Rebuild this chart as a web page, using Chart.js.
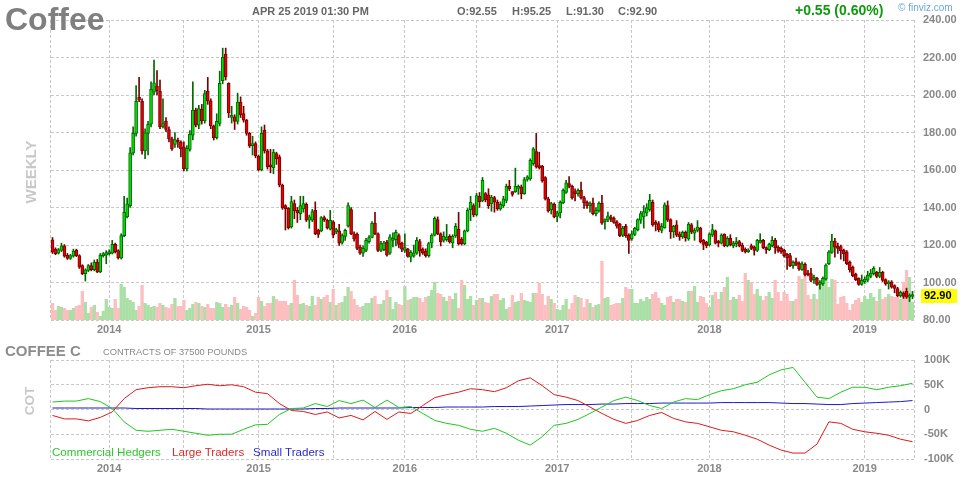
<!DOCTYPE html>
<html>
<head>
<meta charset="utf-8">
<title>Coffee weekly</title>
<script src="https://cdn.jsdelivr.net/npm/chart.js@4.4.1/dist/chart.umd.min.js"></script>
<style>
  body { margin: 0; background: #fff; font-family: "Liberation Sans", Arial, sans-serif; }
  #wrap { position: relative; width: 964px; height: 480px; overflow: hidden; }
  canvas { position: absolute; left: 0; }
  .txt { position: absolute; white-space: nowrap; line-height: 1; }
  .hdr { font-size: 11px; font-weight: bold; color: #666; top: 6px; }
  .side { font-weight: bold; color: #c8c8c8; transform: translate(-50%, -50%) rotate(-90deg); }
  .leg { font-size: 11.6px; top: 446px; }
</style>
</head>
<body>
<div id="wrap">
  <canvas id="price-chart" width="964" height="340" style="top:0"></canvas>
  <canvas id="cot-chart" width="964" height="140" style="top:340px"></canvas>

  <div class="txt" style="left:5px;top:3px;font-size:32px;font-weight:bold;color:#7f7f7f">Coffee</div>
  <div class="txt hdr" style="left:252px">APR 25 2019 01:30 PM</div>
  <div class="txt hdr" id="hdr-o" style="left:457px"></div>
  <div class="txt hdr" id="hdr-h" style="left:512px"></div>
  <div class="txt hdr" id="hdr-l" style="left:566px"></div>
  <div class="txt hdr" id="hdr-c" style="left:618px"></div>
  <div class="txt" style="left:795px;top:2.5px;font-size:14px;font-weight:bold;color:#109910">+0.55 (0.60%)</div>
  <div class="txt" style="left:898px;top:3px;font-size:10px;color:#6aa6e0">© finviz.com</div>
  <div class="txt side" style="left:30px;top:172px;font-size:15px">WEEKLY</div>

  <div class="txt" style="left:5px;top:343px;font-size:15px;font-weight:bold;color:#8c8c8c">COFFEE C</div>
  <div class="txt" style="left:103px;top:348px;font-size:9.3px;color:#888">CONTRACTS OF 37500 POUNDS</div>
  <div class="txt side" style="left:30px;top:401px;font-size:13.5px">COT</div>
  <div class="txt leg" style="left:52px;color:#2ec82e">Commercial Hedgers</div>
  <div class="txt leg" style="left:172px;color:#dd2a2a">Large Traders</div>
  <div class="txt leg" style="left:253px;color:#2a2ad0">Small Traders</div>
</div>

<script>
// weekly candles, Aug 2013 - Apr 2019
const opens = [
  122.8,117.8,115.7,117.1,119.6,114.5,112.9,114,117.1,114.3,
  109,104.7,106.5,109,106.8,110.7,105.7,114.3,114.6,115.4,
  115.7,120.3,117,113,125,135,141,169,179.5,198.7,
  196.6,170.2,179.5,184.4,201.5,204.7,202,183.3,186,181.6,
  176.6,173.7,175.5,174.8,172.3,160.6,171,178.6,191.9,183.9,
  192.3,186.2,201.9,196.9,183.4,177.3,184.8,207.6,221.8,206.2,
  188,188.4,185.9,196.2,190.1,186.6,179.5,173,174.1,167.3,
  160,181.2,170.2,162.4,161.3,168.8,167,152,141,139.6,
  129.6,142.1,138.5,136.7,139.2,141.7,133.2,133.2,138.5,127.8,
  127.5,134.6,133.2,128.5,132.4,127,127.5,121.4,124.6,130,
  138.9,126,125.7,118.9,115.7,117.1,121.8,124.1,131.7,126,
  117.1,117.5,121.4,115.7,122.5,122.8,125,121,117.1,117.8,
  113.5,114,115.7,121.8,117.8,116.8,114.3,121,125.3,133.5,
  126,122.5,122.8,124.6,121.1,124.8,128.5,123.2,120.7,127.5,
  138.9,141,136,146,143.5,147.4,146.7,142,145.3,142.8,
  139.2,141,143.8,151.3,148.5,148.5,150.2,151,147.4,155,
  155.2,163.4,169.8,162.4,162,156,144.6,138.9,141.7,135.2,
  137.1,142.4,148.1,152.8,151.3,148.5,147.4,149.2,145.3,142.8,
  141,142.4,136.7,138.2,142.4,132.4,133.2,134.9,134.2,132.4,
  131,125.3,130,125.3,123.2,125.7,128.2,133.2,135,137.1,
  138.9,142.8,132.1,131.4,127.8,129.3,141,133.5,127,130.7,
  126,124.3,126.8,123.2,130.7,126.3,127.8,128.9,122.5,121.4,
  120,125.3,127.5,122.1,121,125.7,119.6,123.5,119.6,120.7,
  121.8,120,117.8,116.4,119.6,118.9,117.1,121.4,122.5,118.6,
  117.5,119.6,122.5,118.9,118.2,117.1,115,114.3,109,111.1,
  110.4,106.8,109.7,105,104.7,101.5,102.2,99,99.3,101.8,
  110,116.1,122.1,119.2,119.2,117.1,116.4,110.7,108.2,104.3,
  102.2,99,100.4,101.2,103.2,104.7,105.4,103.2,105.4,101.5,
  99.3,100.4,98.3,96.8,92.9,94.3,95.4,92.2,92.55
];
const highs = [
  124,118.5,118.2,121,120.2,115.5,115,117.8,117.8,114.8,
  109.5,107.3,109.6,110.5,112,112.3,115.5,116,117,117.5,
  122.5,121,117.5,126,146,145,172,183,205,209.4,
  198,182,186,207,218.6,213,208,198,188,183,
  177.5,180,177,175.5,175,173,181,207,193,194.5,
  195,202.5,209.4,198,184,190,212.7,225,225,206.5,
  194,189.5,201,199,194,187,180,178,175,168,
  183,184,171,171,171,169.5,168,152.5,141.5,140,
  146,144,140,146,146,142.5,136,139,143,128.5,
  135.2,135.5,133.8,138.5,133,129,131,126,128.5,142.5,
  140,127,126.5,120,119.5,123.5,125,132.5,137.4,126.5,
  122,122,122.5,125.5,126.5,128,126,121.5,126,118.2,
  117,120,124,123,118.5,118,121.5,126,135,135,
  126.5,127,131,125.5,125.5,131.5,137.4,124,128,139.5,
  146,142,147.5,148,156,148,150,146.5,146,144,
  143,146,152.5,154.5,148.5,161,152,152,156,157,
  166,172,179.5,169.5,162.5,156.5,145.5,142.8,142.5,138,
  143.5,150,154.5,156.5,152,150,150,153.5,146,143.5,
  143,145,140,143,146.5,134,137.5,136,135,133,
  131.5,130,131,126,127.5,129.5,134,138,141,142,
  147,144,133,132.5,131.5,142.5,143.5,134,130.5,133,
  127,127.5,127.5,132,131.5,129,133,129.5,123,122,
  126.5,131,128,122.5,126,126,124.5,125.5,122,124,
  122.5,121,118.5,118,120.5,119.5,123,126,123,119,
  121,124.5,123.5,119.5,119,117.8,115.5,115.5,111.5,113,
  111,111,110.5,106.5,107.5,104,102.8,101,103,110,
  117,125.7,123.5,121,120,117.8,117,111.5,108.8,105,
  102.5,104,103,106,107,108.5,106,108,106,102,
  101,101,98.8,97.5,95.5,95,97,94,95.25
];
const lows = [
  115.5,114.8,115.2,116.5,113.5,112.3,112.3,113.5,113.8,107.5,
  104.2,100.8,105.8,106.2,106.2,105.2,105.2,113.5,110,114.6,
  115.2,115.7,112.5,112.5,124.5,134.5,140,168,178,196.5,
  168.5,166,168,183,200,200,182,182.5,180.5,175,
  170.5,172,172,167,159.5,159.5,170,176,183,182,
  184.5,185,195,182,176,176.5,183.5,206,208,188,
  185,181.6,184.5,188,185.5,178.5,172,168,166.5,159.5,
  159.5,169,160.5,158.5,158,163,151,139,128,128.5,
  129,134,132,133.5,137.5,132.5,128.9,132.5,125.5,124,
  127,132.5,128.5,128,123.8,126,119.8,120.5,122.5,129.5,
  125.5,122,117.5,115,113.9,116.4,121,123.8,125.5,116.5,
  116.4,117,114,115,119,119.5,118.5,116.5,116,113.5,
  111,113.5,115,114,115,113.5,113.5,118.5,124.8,125.5,
  119.5,121.5,122,121,118.5,124,120,120,120,127,
  133,135,135.5,140,143,143,139.5,138,137.5,138.5,
  138.5,140,142.5,149,146,148,147,144.6,147,154,
  154.5,162.5,161,160.5,153.5,144,137.5,136.5,134.5,132.5,
  134.5,142,147.5,150.5,144.5,143.5,146,144.5,139.5,139.5,
  137.5,136,135.5,137.5,131,128.5,132.5,132.5,131.5,129,
  124.5,124.5,124,115.5,122.5,125,127.5,131.5,129,135.5,
  138,130,127.5,127,126.5,128.9,132.5,123.5,124,124.5,
  122.5,123.5,122,122.5,126,122.5,127,121,117.5,118.5,
  119.5,124.5,120.5,119,120.5,119,119,119.5,118.5,119,
  119,116.4,115.7,116,117.5,114.6,116.5,121,118,115.5,
  117,119,115.5,116,115.5,113.5,107,108.5,107.5,109,
  106.5,106.5,103.5,103.5,100.5,99.5,98.5,96.5,98.5,101.2,
  109.5,115.5,113.5,115.5,112.5,111.5,109.5,105.5,103,101,
  98.5,98.5,99.5,100.5,102.5,104,102.5,102.5,100.5,98.5,
  96.5,97,94.5,92.4,92.2,91.5,91.5,89.8,91.3
];
const closes = [
  116.2,115.4,117.5,119.6,114,112.9,114.3,116.8,114.3,108.2,
  104.7,106.8,109,106.8,110.7,105.7,114.6,115.4,116,116.2,
  120.3,116.4,113.2,125,137.4,142,169.1,179.5,196.6,197.3,
  170.2,179.8,184.4,203,206.5,202.3,183,184.8,181.6,176.6,
  171.3,176.2,174.8,171.3,160.6,171.6,179.1,191.9,183.9,192.8,
  186.2,200.8,196.9,183.7,177.3,185.9,206.2,220.1,209.7,190.5,
  189.1,185.9,196.2,189.4,186.6,179.5,173,174.1,167.7,160,
  179.5,170.2,161.7,161.7,169.5,165.9,152,139.9,139.2,129.2,
  143.1,138.2,137.1,141,142.1,133.2,135,137.8,126,125.7,
  134.6,133.5,129.2,133.2,125.3,128.2,121,125,127.8,141,
  126,123.2,118.2,115.7,118.2,122.5,123.9,131.7,126,117.1,
  120.7,121.1,114.6,124.3,123.6,126.8,120.3,117.8,118.6,113.9,
  116.1,115.7,122.5,116.8,115.7,114.3,120.7,125.3,134.2,126,
  121.8,124.6,124.3,121.8,124.6,130,120.7,120.7,127.5,138.5,
  142.8,136,146.3,143.1,154.5,144.2,141,145.6,142.8,139.2,
  141.7,144.6,151.3,149.9,147,151.3,151.3,147.4,154.9,156.3,
  165.2,171.3,161.7,161.3,154.2,144.6,138.2,142.1,135,137.1,
  142.8,149.2,153.1,151.3,145.3,147.4,149.2,145.3,142.4,141,
  141.7,136.7,138.5,142.4,131.7,133.5,135.6,133.8,132.1,130,
  125,128.9,125,122.5,126,128.9,133.5,136.7,137.8,139.9,
  143.8,130.7,131,128.2,130,141.4,133.2,127,129.9,125.3,
  124.3,126.8,123.9,131,126.8,127.8,129.6,121.8,120.3,119.6,
  126,128.2,121,121,125.3,119.6,123.5,120,121,121.8,
  119.6,117.1,116.4,117.1,118.2,117.1,122.5,122.5,118.6,117.5,
  120.3,122.5,118.6,116.8,116.4,114.3,113.2,109,110.7,109.7,
  107.2,110,104.3,104,101.1,102.8,99,100.1,102.2,109.3,
  116.4,122.1,118.9,118.2,116.8,115.4,110,106.8,103.6,101.5,
  99,101.1,101.8,104,105,107.5,103.2,105.4,101.1,99.3,
  100.4,97.5,96.8,92.9,94.7,92.6,92.2,93.3,92.9
];
// weekly volume (thousand contracts)
const volumes = [
  17,10,14,13,12,10,10,12,14,15,29,18,7,13,15,8,4,9,21,13,12,21,12,36,33,22,20,18,10,14,
  35,17,15,13,14,13,17,15,13,12,16,22,14,14,20,10,12,16,
  18,17,14,13,16,12,12,18,17,13,16,13,15,23,17,11,14,13,10,4,7,23,19,14,17,17,24,21,19,19,
  19,15,17,40,25,16,17,15,14,24,15,23,21,23,25,18,31,15,
  17,18,24,33,29,21,15,13,14,17,17,22,24,16,16,20,30,23,11,18,16,15,34,20,21,23,23,22,18,23,
  24,30,38,27,26,23,19,24,21,27,12,40,35,21,24,15,20,22,
  22,18,17,24,26,26,20,22,11,13,25,18,19,27,20,19,18,27,27,37,26,15,24,21,17,11,10,15,21,11,
  17,25,23,22,13,21,17,13,15,16,59,22,23,15,16,17,17,22,33,31,
  31,17,17,21,19,23,21,26,28,22,17,15,23,24,18,21,21,19,18,29,29,34,18,24,23,17,13,25,28,21,
  28,33,43,20,23,21,25,19,47,40,38,26,31,24,20,24,28,22,
  40,28,19,28,26,19,19,21,44,41,47,25,21,26,21,38,37,42,33,41,40,16,23,24,17,10,16,20,22,18,
  24,21,27,23,19,31,21,23,26,24,23,23,21,38,50,43,18
];

// COT net positions (thousand contracts), one reading every 4 weeks
const cotStep = 4;
const commercialHedgers = [
  15,17,17,22,16,2,-25,-42,-44,-42,-40,-44,-48,-52,-50,-50,-40,-31,-30,-10,
  2,3,12,6,18,12,19,4,19,4,6,-8,-22,-28,-32,-40,-44,-38,-48,-62,
  -72,-55,-32,-28,-20,-8,5,18,25,18,8,2,15,22,20,30,38,42,50,55,
  70,80,85,55,25,22,35,45,45,40,45,48,53
];
const largeTraders = [
  -12,-19,-19,-23,-16,-5,22,40,44,46,46,44,48,51,48,50,46,35,32,12,
  -2,-4,-10,-5,-17,-12,-21,-4,-20,-5,-8,8,24,30,35,42,40,36,44,58,
  64,48,30,25,18,5,-8,-20,-28,-22,-12,-6,-18,-25,-28,-35,-42,-45,-52,-60,
  -72,-82,-88,-88,-70,-25,-28,-40,-45,-48,-52,-60,-65
];
const smallTraders = [
  3,3,3,3,3,3,3,2,2,2,2,2,2,1,1,1,1,1,1,1,
  1,1,2,2,3,3,3,3,3,3,4,4,4,5,5,5,5,6,6,6,
  7,8,9,10,10,10,11,11,12,12,12,13,13,13,13,13,14,14,14,14,
  14,13,12,12,11,10,10,12,13,14,15,16,18
];

// axis marks: January weeks carry the year label, July weeks just a grid line
const yearWeeks = [19, 69, 118, 169, 220, 272];
const yearLabels = ['2014', '2015', '2016', '2017', '2018', '2019'];
const midYearWeeks = [44, 94, 142, 194, 245];
const priceTicks = [80, 240, 20];
const cotTicks = [-100, 100, 50];

const N = closes.length;
[opens, highs, lows, volumes].forEach(a => {
  if (a.length !== N) throw new Error('length mismatch ' + a.length + ' vs ' + N);
});
[largeTraders, smallTraders].forEach(a => {
  if (a.length !== commercialHedgers.length) throw new Error('cot length mismatch');
});

const GRID = '#c8c8c8';
const DASH = [3, 2];
const TICK_FONT = { size: 11, weight: 'bold' };
const gridWeeks = new Set(yearWeeks.concat(midYearWeeks));
const yearAt = (v) => {
  const k = yearWeeks.indexOf(v);
  return k >= 0 ? yearLabels[k] : '';
};

Chart.defaults.font.family = '"Liberation Sans", Arial, sans-serif';
Chart.defaults.color = '#888';

const last = N - 1;
document.getElementById('hdr-o').textContent = 'O:' + opens[last].toFixed(2);
document.getElementById('hdr-h').textContent = 'H:' + highs[last].toFixed(2);
document.getElementById('hdr-l').textContent = 'L:' + lows[last].toFixed(2);
document.getElementById('hdr-c').textContent = 'C:' + closes[last].toFixed(2);

const isUp = closes.map((c, i) => c >= opens[i]);

// dashed left/right frame of the plot area
const framePlugin = {
  id: 'frame',
  beforeDatasetsDraw(chart) {
    const { ctx, chartArea: a } = chart;
    ctx.save();
    ctx.strokeStyle = GRID;
    ctx.lineWidth = 1;
    ctx.setLineDash(DASH);
    [Math.floor(a.left) - 0.5, Math.round(a.right) + 0.5].forEach(x => {
      ctx.beginPath();
      ctx.moveTo(x, a.top);
      ctx.lineTo(x, a.bottom);
      ctx.stroke();
    });
    ctx.restore();
  }
};

// yellow last price marker on the price axis
const lastPricePlugin = {
  id: 'lastPrice',
  afterDraw(chart) {
    const { ctx, chartArea } = chart;
    const y = chart.scales.y.getPixelForValue(closes[last]);
    ctx.save();
    ctx.fillStyle = '#ffff00';
    ctx.fillRect(chartArea.right + 7, Math.round(y) - 7, 36, 14);
    ctx.fillStyle = '#000';
    ctx.font = 'bold 11px "Liberation Sans", Arial';
    ctx.textBaseline = 'middle';
    ctx.fillText(closes[last].toFixed(2), chartArea.right + 10, y + 0.5);
    ctx.restore();
  }
};

const weekAxis = {
  type: 'category',
  offset: true,
  grid: {
    offset: false,
    drawTicks: false,
    color: (ctx) => gridWeeks.has(ctx.index) ? GRID : 'rgba(0,0,0,0)'
  },
  border: { display: false, dash: DASH },
  ticks: {
    autoSkip: false,
    maxRotation: 0,
    minRotation: 0,
    padding: 3,
    font: TICK_FONT,
    callback: (v, i) => yearAt(i)
  },
  afterFit: (s) => { s.height = 20; }
};

new Chart(document.getElementById('price-chart'), {
  type: 'bar',
  data: {
    labels: closes.map((_, i) => i),
    datasets: [{
      label: 'Volume',
      data: volumes,
      yAxisID: 'yVol',
      backgroundColor: isUp.map(u => u ? '#aadfa6' : '#fcbebe'),
      barThickness: 3.3,
      inflateAmount: 0,
      grouped: false,
      order: 3
    }, {
      label: 'Range',
      data: lows.map((l, i) => [l, highs[i]]),
      backgroundColor: isUp.map(u => u ? '#006a00' : '#7a0000'),
      barThickness: 1,
      grouped: false,
      order: 2
    }, {
      label: 'Body',
      data: opens.map((o, i) => [o, closes[i]]),
      backgroundColor: isUp.map(u => u ? '#00e000' : '#e80000'),
      borderColor: isUp.map(u => u ? '#006a00' : '#7a0000'),
      borderWidth: 1,
      borderSkipped: false,
      barThickness: 3,
      minBarLength: 2,
      grouped: false,
      order: 1
    }]
  },
  options: {
    responsive: false,
    animation: false,
    layout: { padding: { left: 51, top: 20, right: 0, bottom: 0 } },
    plugins: { legend: { display: false }, tooltip: { enabled: false } },
    scales: {
      x: weekAxis,
      y: {
        position: 'right',
        min: priceTicks[0],
        max: priceTicks[1],
        grid: { color: GRID, drawTicks: false },
        border: { display: false, dash: DASH },
        ticks: {
          stepSize: priceTicks[2],
          padding: 9,
          font: TICK_FONT,
          callback: (v) => v.toFixed(2)
        },
        afterFit: (s) => { s.width = 50; }
      },
      yVol: { display: false, min: 0, max: 300 }
    }
  },
  plugins: [framePlugin, lastPricePlugin]
});

const cotPoints = (arr) => arr.map((v, i) => ({ x: i * cotStep, y: v }));

new Chart(document.getElementById('cot-chart'), {
  type: 'line',
  data: {
    datasets: [{
      label: 'Commercial Hedgers',
      data: cotPoints(commercialHedgers),
      borderColor: '#1ec81e'
    }, {
      label: 'Large Traders',
      data: cotPoints(largeTraders),
      borderColor: '#dd1a1a'
    }, {
      label: 'Small Traders',
      data: cotPoints(smallTraders),
      borderColor: '#1a1ad0'
    }]
  },
  options: {
    responsive: false,
    animation: false,
    elements: { point: { radius: 0 }, line: { borderWidth: 1, tension: 0 } },
    layout: { padding: { left: 51, top: 20, right: 0, bottom: 0 } },
    plugins: { legend: { display: false }, tooltip: { enabled: false } },
    scales: {
      x: {
        type: 'linear',
        min: -0.5,
        max: N - 0.5,
        afterBuildTicks: (s) => {
          s.ticks = yearWeeks.concat(midYearWeeks).sort((a, b) => a - b).map(v => ({ value: v }));
        },
        grid: { color: GRID, drawTicks: false },
        border: { display: false, dash: DASH },
        ticks: {
          autoSkip: false,
          maxRotation: 0,
          padding: 3,
          font: TICK_FONT,
          callback: (v) => yearAt(v)
        },
        afterFit: (s) => { s.height = 21; }
      },
      y: {
        position: 'right',
        min: cotTicks[0],
        max: cotTicks[1],
        grid: { color: GRID, drawTicks: false },
        border: { display: false, dash: DASH },
        ticks: {
          stepSize: cotTicks[2],
          padding: 10,
          font: TICK_FONT,
          callback: (v) => v === 0 ? '0' : v + 'K'
        },
        afterFit: (s) => { s.width = 50; }
      }
    }
  },
  plugins: [framePlugin]
});
</script>
</body>
</html>
